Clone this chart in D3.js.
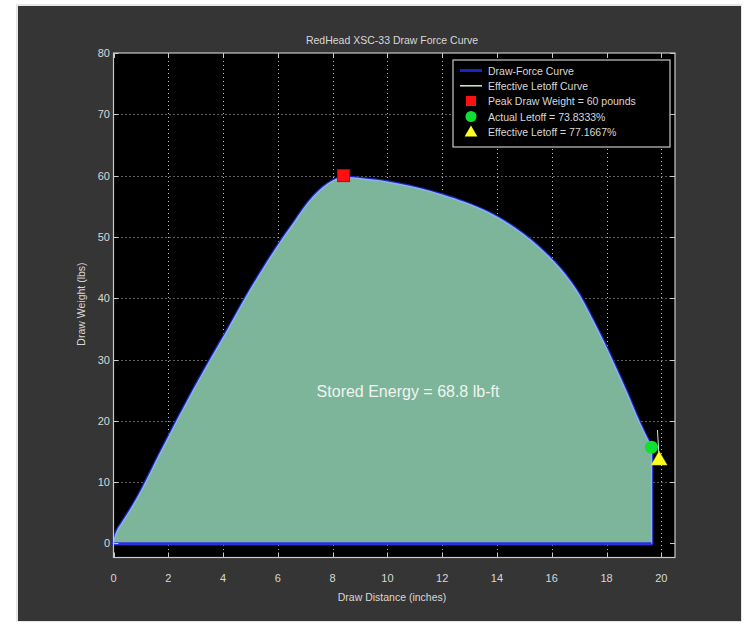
<!DOCTYPE html>
<html>
<head>
<meta charset="utf-8">
<script src="https://cdn.jsdelivr.net/npm/d3@7"></script>
<style>
  html, body { margin: 0; padding: 0; background: #ffffff; }
  svg { display: block; }
  text { font-family: "Liberation Sans", Arial, sans-serif; }
</style>
</head>
<body>
<svg id="chart" width="746" height="624"></svg>
<script>
// ---- data ----
const drawDistance = [0.0, 0.1, 0.3, 0.6, 1.0, 1.15, 1.7, 2.3, 2.9, 3.55, 4.2, 4.8, 5.5, 6.2, 6.6, 7.0, 7.65, 8.15, 8.4, 9.0, 9.6, 10.5, 11.2, 12.0, 12.8, 13.7, 14.3, 14.95, 15.5, 15.9, 16.5, 17.0, 17.5, 18.0, 18.4, 18.73, 19.1, 19.4, 19.64];
const drawWeight   = [0.0, 1.6, 3.2, 5.3, 8.4, 9.7, 14.6, 19.8, 24.8, 30.0, 35.0, 39.8, 45.0, 49.8, 52.3, 54.9, 58.0, 59.4, 59.7, 59.5, 59.2, 58.5, 57.8, 56.8, 55.6, 53.9, 52.4, 50.4, 48.4, 46.7, 43.7, 40.5, 36.3, 31.8, 27.9, 24.6, 20.7, 17.8, 15.7];
const peakPoint = { x: 8.4, y: 60 };
const actualLetoffPoint = { x: 19.64, y: 15.7 };
const effectiveLetoffPoint = { x: 19.92, y: 13.7 };
const xTicks = [0, 2, 4, 6, 8, 10, 12, 14, 16, 18, 20];
const yTicks = [0, 10, 20, 30, 40, 50, 60, 70, 80];
const legendLabels = ["Draw-Force Curve", "Effective Letoff Curve", "Peak Draw Weight = 60 pounds", "Actual Letoff = 73.8333%", "Effective Letoff = 77.1667%"];
const titleText = "RedHead XSC-33 Draw Force Curve";
const xLabelText = "Draw Distance (inches)";
const yLabelText = "Draw Weight (lbs)";
const annotationText = "Stored Energy = 68.8 lb-ft";

// ---- layout ----
const svg = d3.select("#chart");
const L = 113.5, R = 675, T = 53, B = 557.5;
const x = d3.scaleLinear().domain([0, 20.5]).range([L, R]);
const y = d3.scaleLinear().domain([-2.3, 80]).range([B, T]);
const fg = "#d8d8d8";

// figure panel
svg.append("rect").attr("x", 16).attr("y", 4).attr("width", 726).attr("height", 618).attr("fill", "#e6e6e6");
svg.append("rect").attr("x", 18).attr("y", 6).attr("width", 723).attr("height", 615).attr("fill", "#353535");

// plot area
svg.append("rect").attr("x", L).attr("y", T).attr("width", R - L).attr("height", B - T).attr("fill", "#000");

// grid
const grid = svg.append("g").attr("stroke", "#bdbdbd").attr("stroke-width", 1).attr("stroke-dasharray", "1,3");
grid.selectAll("line.gx").data(xTicks.filter(d => d > 0)).join("line")
  .attr("x1", d => Math.round(x(d)) + 0.5).attr("x2", d => Math.round(x(d)) + 0.5)
  .attr("y1", T).attr("y2", B);
grid.selectAll("line.gy").data(yTicks.filter(d => d > 0 && d < 80)).join("line")
  .attr("y1", d => Math.round(y(d)) + 0.5).attr("y2", d => Math.round(y(d)) + 0.5)
  .attr("x1", L).attr("x2", R);

// curve (filled area under draw-force curve)
const pts = drawDistance.map((d, i) => [d, drawWeight[i]]);
const area = d3.area().curve(d3.curveMonotoneX)
  .x(d => x(d[0])).y0(y(0)).y1(d => y(d[1]));
svg.append("path").attr("d", area(pts))
  .attr("fill", "none").attr("stroke", "#1a22c8").attr("stroke-width", 4).attr("stroke-linejoin", "round");
svg.append("path").attr("d", area(pts))
  .attr("fill", "#7db59a").attr("stroke", "#8ab6e2").attr("stroke-width", 1.5).attr("stroke-linejoin", "round");
// bottom blue baseline
svg.append("line").attr("x1", x(0)).attr("x2", x(19.64)).attr("y1", y(0)).attr("y2", y(0))
  .attr("stroke", "#2a2ee0").attr("stroke-width", 2.5);

// effective letoff curve (short segment)
svg.append("line").attr("x1", x(19.86)).attr("y1", y(18.5)).attr("x2", x(19.92)).attr("y2", y(13.7))
  .attr("stroke", "#cfe8d8").attr("stroke-width", 1);

// axes box
svg.append("rect").attr("x", L).attr("y", T).attr("width", R - L).attr("height", B - T)
  .attr("fill", "none").attr("stroke", "#c8c8c8").attr("stroke-width", 1.2);

// ticks (inward) + labels
const tk = svg.append("g").attr("stroke", "#c8c8c8").attr("stroke-width", 1);
xTicks.forEach(d => {
  const px = Math.round(x(d)) + 0.5;
  tk.append("line").attr("x1", px).attr("x2", px).attr("y1", B).attr("y2", B - 5);
  tk.append("line").attr("x1", px).attr("x2", px).attr("y1", T).attr("y2", T + 5);
});
yTicks.forEach(d => {
  const py = Math.round(y(d)) + 0.5;
  tk.append("line").attr("x1", L).attr("x2", L + 5).attr("y1", py).attr("y2", py);
  tk.append("line").attr("x1", R).attr("x2", R - 5).attr("y1", py).attr("y2", py);
});
svg.append("g").selectAll("text").data(xTicks).join("text")
  .attr("x", d => x(d)).attr("y", 582).attr("text-anchor", "middle")
  .attr("font-size", 11).attr("fill", fg).text(d => d);
svg.append("g").selectAll("text").data(yTicks).join("text")
  .attr("x", 110).attr("y", d => y(d) + 4).attr("text-anchor", "end")
  .attr("font-size", 11).attr("fill", fg).text(d => d);

// title and axis labels
svg.append("text").attr("x", 392).attr("y", 44).attr("text-anchor", "middle")
  .attr("font-size", 10.5).attr("fill", fg).text(titleText);
svg.append("text").attr("x", 392).attr("y", 601).attr("text-anchor", "middle")
  .attr("font-size", 10.5).attr("fill", fg).text(xLabelText);
svg.append("text").attr("transform", "translate(85,304) rotate(-90)").attr("text-anchor", "middle")
  .attr("font-size", 10.5).attr("fill", fg).text(yLabelText);

// annotation
svg.append("text").attr("x", 408).attr("y", 397).attr("text-anchor", "middle")
  .attr("font-size", 16).attr("fill", "#f0f4f0").text(annotationText);

// markers
svg.append("rect").attr("x", x(peakPoint.x) - 6).attr("y", y(peakPoint.y) - 6).attr("width", 12).attr("height", 12)
  .attr("fill", "#ff1010").attr("stroke", "#d00000").attr("stroke-width", 1);
svg.append("circle").attr("cx", x(actualLetoffPoint.x)).attr("cy", y(actualLetoffPoint.y)).attr("r", 6.5)
  .attr("fill", "#10e030");
const tri = d3.symbol().type(d3.symbolTriangle).size(110);
svg.append("path").attr("d", tri()).attr("transform", `translate(${x(effectiveLetoffPoint.x)},${y(effectiveLetoffPoint.y) + 1})`)
  .attr("fill", "#ffff20").attr("stroke", "#e0d000").attr("stroke-width", 0.5);

// legend
const lg = svg.append("g");
lg.append("rect").attr("x", 453).attr("y", 60).attr("width", 217).attr("height", 87)
  .attr("fill", "#000").attr("stroke", "#c8c8c8").attr("stroke-width", 1.2);
const rowY = [70.5, 85.8, 101, 116.5, 131.8];
lg.append("line").attr("x1", 460).attr("x2", 482).attr("y1", rowY[0]).attr("y2", rowY[0]).attr("stroke", "#1a22c8").attr("stroke-width", 3);
lg.append("line").attr("x1", 460).attr("x2", 482).attr("y1", rowY[1]).attr("y2", rowY[1]).attr("stroke", "#d8ecd8").attr("stroke-width", 1.5);
lg.append("rect").attr("x", 466).attr("y", rowY[2] - 5).attr("width", 10).attr("height", 10).attr("fill", "#ff1010");
lg.append("circle").attr("cx", 471).attr("cy", rowY[3]).attr("r", 5.5).attr("fill", "#10e030");
lg.append("path").attr("d", d3.symbol().type(d3.symbolTriangle).size(70)()).attr("transform", `translate(471,${rowY[4] + 1})`).attr("fill", "#ffff20");
lg.selectAll("text").data(legendLabels).join("text")
  .attr("x", 488).attr("y", (d, i) => rowY[i] + 4)
  .attr("font-size", 10.5).attr("fill", fg).text(d => d);
</script>
</body>
</html>
